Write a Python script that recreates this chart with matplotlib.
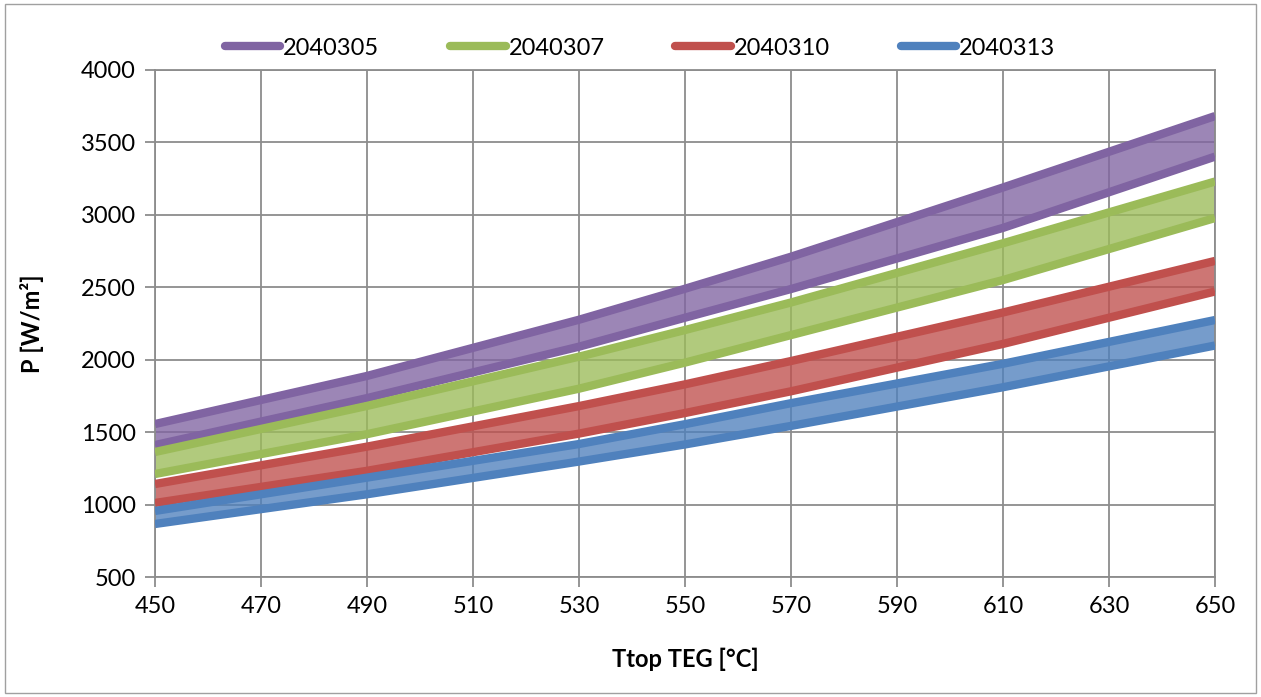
import matplotlib
matplotlib.use("Agg")
import matplotlib.pyplot as plt
from matplotlib.patches import Rectangle

# --- data ---
t_top = [450, 490, 530, 550, 570, 610, 650]

series_names = ["2040305", "2040307", "2040310", "2040313"]

p_2040305_hi = [1556, 1888, 2276, 2490, 2711, 3189, 3682]
p_2040305_lo = [1411, 1735, 2090, 2290, 2488, 2910, 3402]
p_2040307_hi = [1363, 1681, 2021, 2205, 2395, 2804, 3230]
p_2040307_lo = [1211, 1486, 1800, 1980, 2170, 2550, 2978]
p_2040310_hi = [1142, 1400, 1680, 1830, 1991, 2326, 2682]
p_2040310_lo = [1011, 1233, 1490, 1632, 1782, 2109, 2471]
p_2040313_hi = [956, 1186, 1418, 1555, 1700, 1972, 2274]
p_2040313_lo = [866, 1071, 1297, 1415, 1543, 1810, 2098]

upper = [p_2040305_hi, p_2040307_hi, p_2040310_hi, p_2040313_hi]
lower = [p_2040305_lo, p_2040307_lo, p_2040310_lo, p_2040313_lo]
colors = ["#8064A2", "#9BBB59", "#C0504D", "#4F81BD"]

x_ticks = list(range(450, 651, 20))
y_ticks = list(range(500, 4001, 500))

plt.rcParams['font.family'] = ['Lato', 'DejaVu Sans']

fig = plt.figure(figsize=(12.61, 6.97), dpi=100)
ax = fig.add_axes([155 / 1261, 1 - 577 / 697, 1060 / 1261, 507 / 697])

grid_col = "#8c8c8c"
for name, hi, lo, col in zip(series_names, upper, lower, colors):
    ax.fill_between(t_top, lo, hi, color=col, alpha=0.78, linewidth=0, zorder=2)
    ax.plot(t_top, hi, color=col, lw=6, solid_capstyle='butt', zorder=3, label=name)
    ax.plot(t_top, lo, color=col, lw=6, solid_capstyle='butt', zorder=3)

ax.set_xlim(450, 650)
ax.set_ylim(500, 4000)
ax.set_xticks(x_ticks)
ax.set_yticks(y_ticks)
ax.grid(True, color=grid_col, lw=1.3, zorder=0)
ax.set_axisbelow(True)
for s in ax.spines.values():
    s.set_color(grid_col)
    s.set_linewidth(1.3)
ax.tick_params(axis='both', colors=grid_col, length=7, width=1.3, labelsize=17,
               labelcolor='black', pad=7)

ax.set_xlabel("Ttop TEG [°C]", fontsize=17, fontweight='bold', labelpad=22)
ax.set_ylabel("P [W/m²]", fontsize=17, fontweight='bold', labelpad=26)

# legend: one entry per series, lines only
handles, labels = ax.get_legend_handles_labels()
leg = ax.legend(handles, labels, loc='center', bbox_to_anchor=(0.4575, 1.043), ncol=4,
                frameon=False, fontsize=17, handlelength=2.35, handletextpad=0.12,
                columnspacing=3.0, borderaxespad=0)
for line in leg.get_lines():
    line.set_solid_capstyle('round')
    line.set_linewidth(6)

# chart border like the spreadsheet frame
fig.add_artist(Rectangle((0.004, 0.006), 0.992, 0.988, transform=fig.transFigure,
                         fill=False, edgecolor="#a0a0a0", lw=1))

fig.savefig("out.png", dpi=100)
